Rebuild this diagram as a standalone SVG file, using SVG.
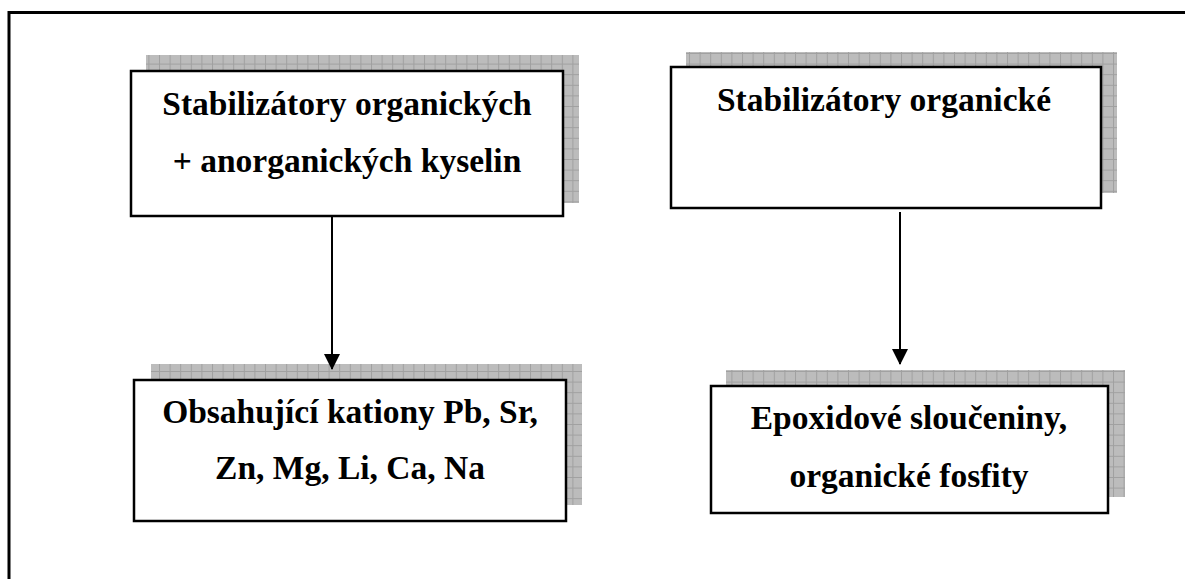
<svg xmlns="http://www.w3.org/2000/svg" width="1185" height="579" viewBox="0 0 1185 579">
<defs>
<pattern id="grid" x="0" y="0" width="10.6" height="10.6" patternUnits="userSpaceOnUse">
<rect width="10.6" height="10.6" fill="#bcbcbc"/>
<path d="M0 0.5H10.6M0.5 0V10.6" stroke="#a0a0a0" stroke-width="1"/>
</pattern>
<marker id="arr" markerWidth="16" markerHeight="16" refX="15" refY="8" orient="auto" markerUnits="userSpaceOnUse">
<path d="M0 0L16 8L0 16Z" fill="#000"/>
</marker>
</defs>
<style>
.shadow{fill:url(#grid);}
.box{fill:#fff;stroke:#000;stroke-width:2.5;}
.t{font-family:'Liberation Serif','Times New Roman',serif;font-weight:bold;font-size:33.5px;fill:#000;text-anchor:middle;}
.conn{stroke:#000;stroke-width:2;fill:none;marker-end:url(#arr);}
</style>
<rect width="1185" height="579" fill="#fff"/>
<path d="M9 590V12.5H1200" fill="none" stroke="#000" stroke-width="3"/>
<g id="n1">
<rect class="shadow" x="146" y="55" width="433" height="148"/>
<rect class="box" x="131" y="71" width="432" height="145"/>
<text class="t" font-family="Liberation Serif, serif" x="347" y="115">Stabilizátory organických</text>
<text class="t" font-family="Liberation Serif, serif" x="347" y="172">+ anorganických kyselin</text>
</g>
<g id="n2">
<rect class="shadow" x="686" y="52" width="431" height="141"/>
<rect class="box" x="671" y="67" width="430" height="141"/>
<text class="t" font-family="Liberation Serif, serif" x="884" y="111">Stabilizátory organické</text>
</g>
<g id="n3">
<rect class="shadow" x="151" y="364" width="431" height="141"/>
<rect class="box" x="134" y="380" width="432" height="141"/>
<text class="t" font-family="Liberation Serif, serif" x="350" y="423">Obsahující kationy Pb, Sr,</text>
<text class="t" font-family="Liberation Serif, serif" x="350" y="479">Zn, Mg, Li, Ca, Na</text>
</g>
<g id="n4">
<rect class="shadow" x="726" y="370" width="399" height="127"/>
<rect class="box" x="711" y="386" width="397" height="127"/>
<text class="t" font-family="Liberation Serif, serif" x="909" y="429">Epoxidové sloučeniny,</text>
<text class="t" font-family="Liberation Serif, serif" x="909" y="487">organické fosfity</text>
</g>
<g id="connectors">
<line class="conn" x1="332" y1="217" x2="332" y2="369"/>
<line class="conn" x1="900" y1="212" x2="900" y2="364"/>
</g>
</svg>
